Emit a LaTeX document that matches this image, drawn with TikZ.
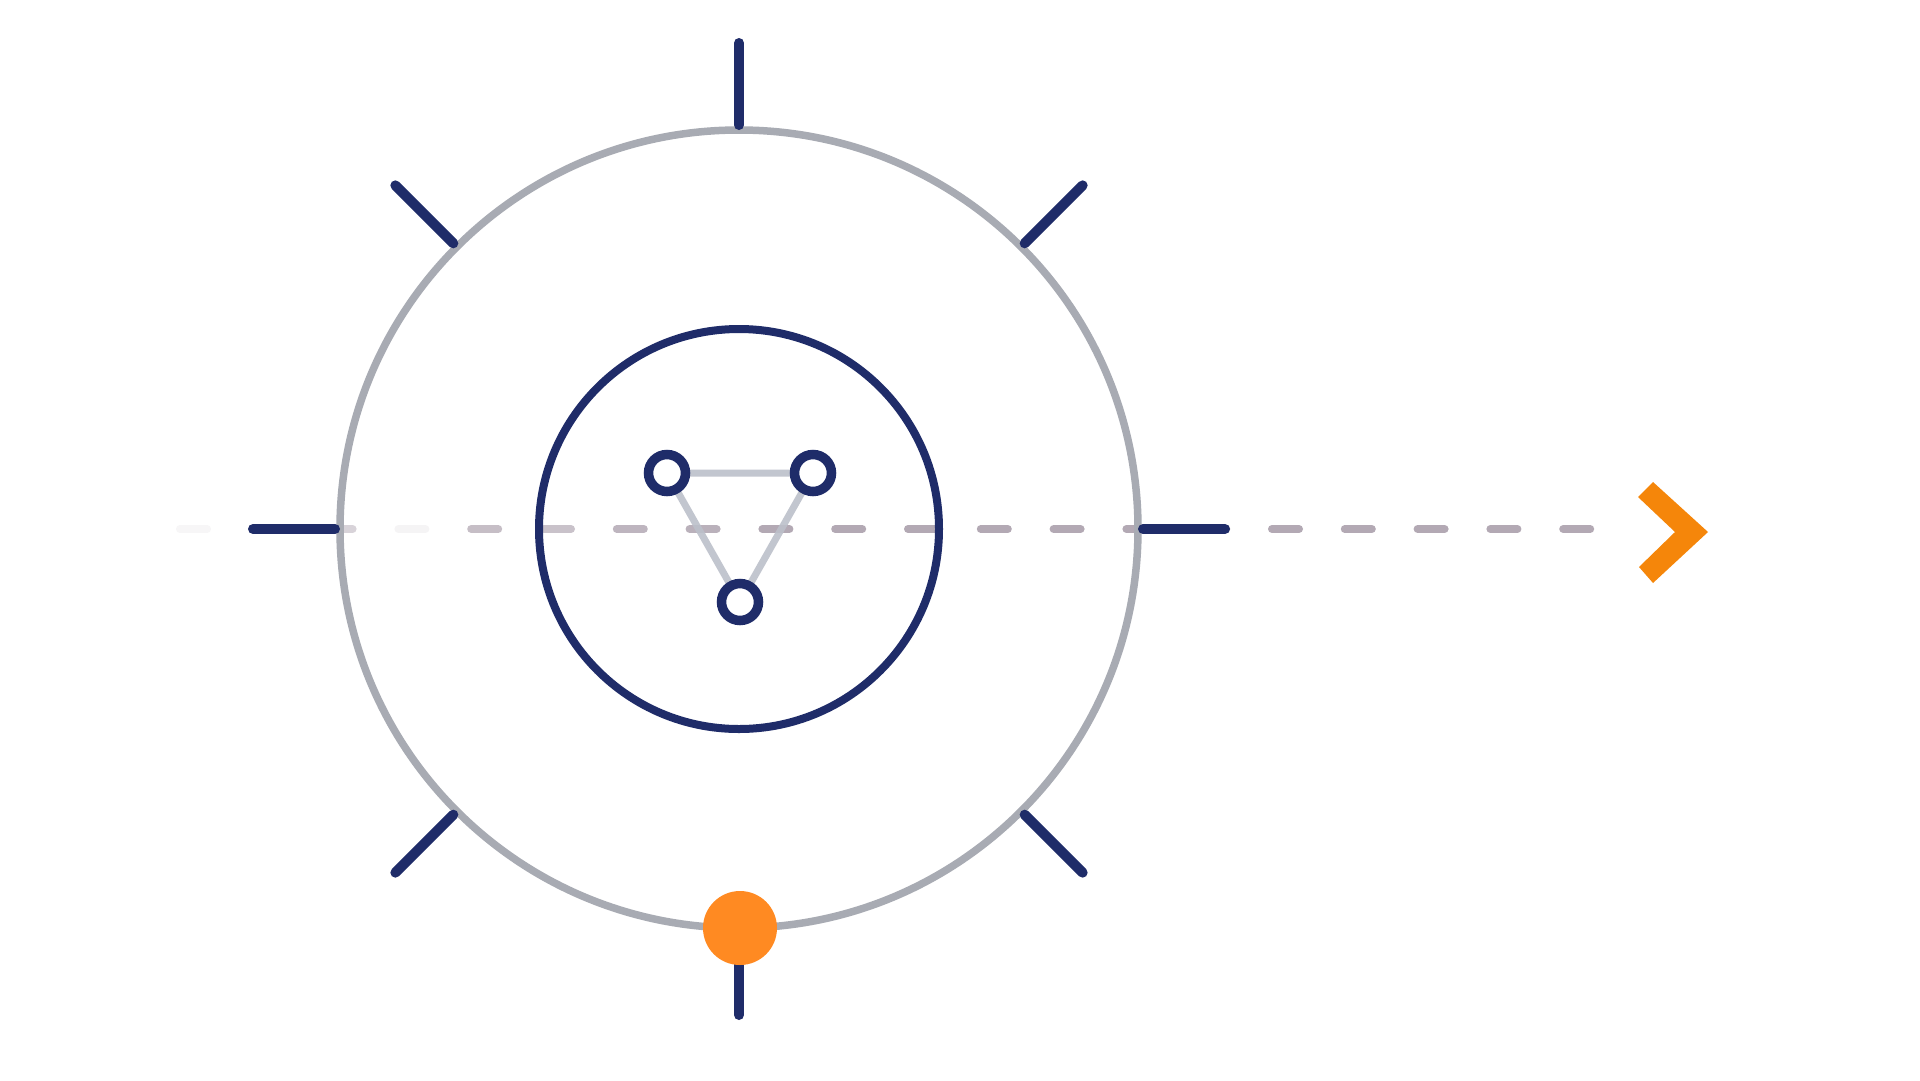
\documentclass[tikz,border=0pt]{standalone}
\usetikzlibrary{calc}
\definecolor{navy}{HTML}{1F2C69}
\definecolor{ringgrey}{HTML}{A8ABB3}
\definecolor{trigrey}{HTML}{BCC0CA}
\definecolor{dashgrey}{HTML}{B3A9B4}
\definecolor{dotorange}{HTML}{FF8A22}
\definecolor{chevorange}{HTML}{F5860A}
\begin{document}
\begin{tikzpicture}[x=1pt,y=-1pt,
  tickline/.style={draw=navy,line width=10pt,line cap=round},
  outerring/.style={draw=ringgrey,line width=7.5pt},
  innerring/.style={draw=navy,line width=8pt},
  triline/.style={draw=trigrey,line width=7pt},
  dashseg/.style={draw=dashgrey,line width=8pt,line cap=round},
  ring/.style={circle,draw=navy,line width=9.5pt,fill=white,minimum size=37pt,inner sep=0pt},
  orangedot/.style={circle,fill=dotorange,minimum size=74pt,inner sep=0pt},
  chevron/.style={fill=chevorange}]
\useasboundingbox (0,0) rectangle (1920,1080);
\fill[white] (0,0) rectangle (1920,1080);
\coordinate (O) at (739,529);
% dashed axis (fading in from the left)
\foreach \k/\op in {0/0.1,1/0.2,2/0.5,3/0.12,4/0.75,5/0.7,6/0.85,7/0.9,8/1,9/1,10/1,11/1,12/1,13/1,14/1,15/1,16/1,17/1,18/1,19/1}{
  \coordinate (d1) at ({176+72.8*\k+4},529);
  \coordinate (d2) at ({176+72.8*\k+31},529);
  \draw[dashseg,opacity=\op] (d1) -- (d2);
}
% outer ring and ticks
\draw[outerring] (O) circle[radius=399];
\foreach \a in {0,45,...,315}{
  \draw[tickline] ($(O)+(\a:404)$) -- ($(O)+(\a:486)$);
}
% inner ring
\draw[innerring] (O) circle[radius=200];
% triangle
\coordinate (ta) at (667,473);
\coordinate (tb) at (813,473);
\coordinate (tc) at (740,602);
\draw[triline,opacity=0.9] (ta) -- (tb) -- (tc) -- cycle;
\node[ring] (ra) at (ta) {};
\node[ring] (rb) at (tb) {};
\node[ring] (rc) at (tc) {};
% orange dot
\node[orangedot] (dot) at (740,928) {};
% chevron
\fill[chevron] (1638,497) -- (1653,482) -- (1708,532) -- (1653,583) -- (1639,567) -- (1675,532) -- cycle;
\end{tikzpicture}
\end{document}
